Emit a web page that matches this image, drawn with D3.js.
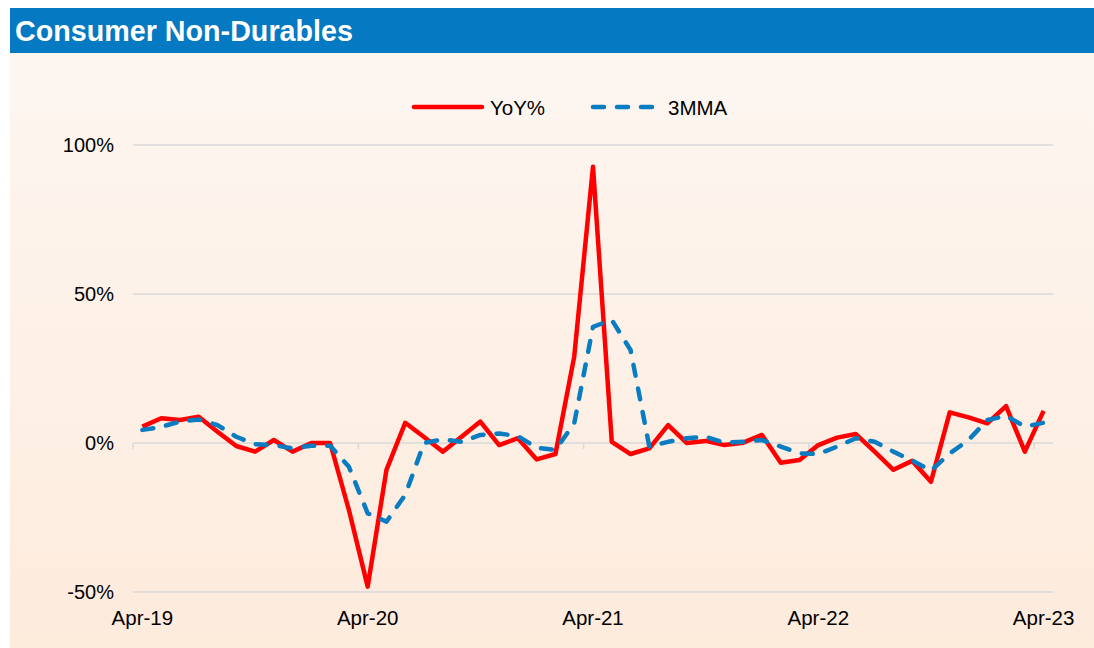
<!DOCTYPE html>
<html><head><meta charset="utf-8">
<script src="https://cdn.jsdelivr.net/npm/d3@7"></script>
<style>body{margin:0;background:#fff;}svg{display:block;font-family:"Liberation Sans",Arial,sans-serif;}</style>
</head><body><svg id="c" width="1094" height="648"></svg>
<script>
const months = ["Apr-19","May-19","Jun-19","Jul-19","Aug-19","Sep-19","Oct-19","Nov-19","Dec-19","Jan-20","Feb-20","Mar-20",
"Apr-20","May-20","Jun-20","Jul-20","Aug-20","Sep-20","Oct-20","Nov-20","Dec-20","Jan-21","Feb-21","Mar-21",
"Apr-21","May-21","Jun-21","Jul-21","Aug-21","Sep-21","Oct-21","Nov-21","Dec-21","Jan-22","Feb-22","Mar-22",
"Apr-22","May-22","Jun-22","Jul-22","Aug-22","Sep-22","Oct-22","Nov-22","Dec-22","Jan-23","Feb-23","Mar-23","Apr-23"];
const yoy = [5.5,8.3,7.7,8.8,3.8,-1.0,-2.9,1.0,-2.9,0.0,0.0,-22.5,
-48.2,-9.0,6.8,2.0,-2.9,2.1,7.2,-0.7,1.6,-5.5,-3.7,29.0,
92.7,0.4,-3.7,-1.8,6.0,0.0,0.7,-0.7,0.1,2.7,-6.6,-5.7,
-0.7,1.8,3.0,-2.9,-9.0,-6.0,-13.0,10.3,8.6,6.6,12.4,-2.9,10.8];
const mma3 = [4.4,5.4,7.2,7.9,6.0,2.1,-0.4,-0.7,-1.8,-0.9,-0.9,-8.0,
-23.6,-26.4,-17.4,0.0,1.2,0.4,2.7,3.2,2.3,-1.6,-2.3,6.6,
39.0,41.3,31.2,-1.2,0.4,1.6,2.1,0.1,0.4,1.0,-1.2,-3.5,
-3.7,-1.2,1.6,0.4,-2.9,-5.9,-9.3,-3.5,1.0,7.7,9.1,5.5,6.8];
const yTicks = [-50,0,50,100];
const xLabels = ["Apr-19","Apr-20","Apr-21","Apr-22","Apr-23"];
const seriesNames = ["YoY%","3MMA"];

const svg = d3.select("#c");
const defs = svg.append("defs");
const g = defs.append("linearGradient").attr("id","bg").attr("x1",0).attr("y1",0).attr("x2",0).attr("y2",1);
g.append("stop").attr("offset","0%").attr("stop-color","#FDF6F1");
g.append("stop").attr("offset","100%").attr("stop-color","#FDEBDC");

svg.append("rect").attr("x",10).attr("y",53).attr("width",1084).attr("height",595).attr("fill","url(#bg)");
svg.append("rect").attr("x",10).attr("y",8).attr("width",1084).attr("height",45).attr("fill","#0579C1");
svg.append("text").attr("x",15).attr("y",41).attr("fill","#fff").attr("font-weight","bold")
  .attr("font-size",28.7).text("Consumer Non-Durables");

const x = d3.scaleBand().domain(months).range([133,1053]);
const y = d3.scaleLinear().domain([-50,100]).range([592,145]);

// gridlines
svg.append("g").selectAll("line").data(yTicks).join("line")
  .attr("x1",133).attr("x2",1053).attr("y1",d=>y(d)).attr("y2",d=>y(d))
  .attr("stroke","#D9D9D9").attr("stroke-width",1.5);
svg.append("g").selectAll("text").data(yTicks).join("text")
  .attr("x",114).attr("y",d=>y(d)).attr("dy","0.35em").attr("text-anchor","end")
  .attr("font-size",20).attr("fill","#000").text(d=>d+"%");
// tick marks at year boundaries on zero line
svg.append("g").selectAll("line").data(xLabels).join("line")
  .attr("x1",d=>x(d)).attr("x2",d=>x(d)).attr("y1",y(0)).attr("y2",y(0)+6)
  .attr("stroke","#D9D9D9").attr("stroke-width",1.5);
svg.append("g").selectAll("text").data(xLabels).join("text")
  .attr("x",d=>x(d)+x.bandwidth()/2).attr("y",625).attr("text-anchor","middle")
  .attr("font-size",20.5).attr("fill","#000").text(d=>d);

const line = d3.line().x((d,i)=>x(months[i])+x.bandwidth()/2).y(d=>y(d));
svg.append("path").datum(yoy).attr("d",line).attr("fill","none").attr("stroke","#FF0000")
  .attr("stroke-width",4.5).attr("stroke-linejoin","round");
svg.append("path").datum(mma3).attr("d",line).attr("fill","none").attr("stroke","#0A7CC2")
  .attr("stroke-width",4.5).attr("stroke-dasharray","11,13").attr("stroke-linecap","round").attr("stroke-linejoin","round");

// legend
const lg = svg.append("g");
lg.append("line").attr("x1",414).attr("x2",482).attr("y1",107).attr("y2",107)
  .attr("stroke","#FF0000").attr("stroke-width",4.5).attr("stroke-linecap","round");
lg.append("text").attr("x",490).attr("y",115).attr("font-size",20.5).text(seriesNames[0]);
lg.append("line").attr("x1",593).attr("x2",654).attr("y1",107).attr("y2",107)
  .attr("stroke","#0A7CC2").attr("stroke-width",4.5).attr("stroke-dasharray","11,13").attr("stroke-linecap","round");
lg.append("text").attr("x",668).attr("y",115).attr("font-size",20.5).text(seriesNames[1]);
</script></body></html>
